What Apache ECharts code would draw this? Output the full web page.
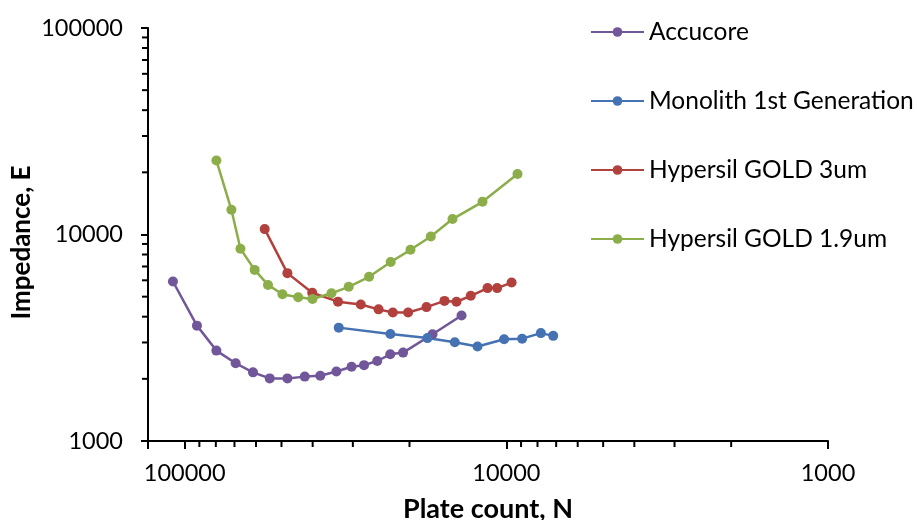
<!DOCTYPE html>
<html>
<head>
<meta charset="utf-8">
<script src="https://cdn.jsdelivr.net/npm/echarts@6/dist/echarts.min.js"></script>
<style>
	html, body {margin:0; padding:0; background:#fff;}
	#impedanceChart {width:917px; height:520px;}
</style>
</head>
<body>
<div id="impedanceChart"></div>
<script>
//Accucore
var accucoreN = [108750, 91570, 79680, 69400, 61320, 54390, 47930, 42330, 37880, 33750, 30280, 27690, 25190, 22950, 20940, 16960, 13780];
var accucoreE = [5920, 3620, 2740, 2380, 2150, 2010, 2010, 2050, 2070, 2170, 2290, 2330, 2440, 2630, 2680, 3290, 4050];
//Monolith 1st Generation
var monolithN = [33190, 22930, 17590, 14460, 12290, 10160, 8930, 7810, 7150];
var monolithE = [3540, 3300, 3150, 3010, 2870, 3110, 3130, 3330, 3230];
//Hypersil GOLD 3um
var hg3N = [56390, 47930, 40120, 33370, 28350, 24960, 22540, 20200, 17710, 15570, 14290, 12900, 11440, 10680, 9630];
var hg3E = [10620, 6500, 5220, 4730, 4580, 4340, 4190, 4190, 4450, 4770, 4720, 5050, 5500, 5500, 5850];
//Hypersil GOLD 1.9um
var hg19N = [79680, 71560, 67080, 60580, 55060, 49670, 44360, 40060, 34970, 30900, 26710, 22880, 19860, 17170, 14700, 11860, 9230];
var hg19E = [22840, 13170, 8530, 6740, 5700, 5140, 4970, 4870, 5190, 5580, 6240, 7360, 8430, 9780, 11880, 14400, 19630];

var seriesNames = ['Accucore', 'Monolith 1st Generation', 'Hypersil GOLD 3um', 'Hypersil GOLD 1.9um'];
var seriesColors = ['#71569A', '#4472B2', '#B2403D', '#8BAE4A'];

//axis ranges and ticks
var xRange = [1000, 130000];
var yRange = [1000, 100000];
var majorTicks = [1000, 10000, 100000];
var minorTicks = [2000, 3000, 4000, 5000, 6000, 7000, 8000, 9000, 20000, 30000, 40000, 50000, 60000, 70000, 80000, 90000];

var FONT = 'Lato';

window.ImpedanceChart = (function(module) {
	/**
	 * 初始化
	 */
	function init(){
		showChart();
	}

	//把两列数组拼成点
	function toPoints(xs, ys){
		var pts = [];
		for(var i = 0; i < xs.length; i++){
			pts.push([xs[i], ys[i]]);
		}
		return pts;
	}

	//只显示10的整数次幂
	function majorLabel(v){
		for(var i = 0; i < majorTicks.length; i++){
			if(Math.abs(v - majorTicks[i]) / majorTicks[i] < 1e-6){
				return String(majorTicks[i]);
			}
		}
		return '';
	}

	//次刻度 (2..9)
	function minorTickData(){
		var data = [];
		for(var i = 0; i < minorTicks.length; i++){
			data.push([minorTicks[i], yRange[0], 0]);
			data.push([xRange[1], minorTicks[i], 1]);
		}
		return data;
	}

	function renderMinorTick(params, api){
		var p = api.coord([api.value(0), api.value(1)]);
		var len = 6;
		var shape = api.value(2) === 0
			? {x1: p[0], y1: p[1], x2: p[0], y2: p[1] + len}
			: {x1: p[0] - len, y1: p[1], x2: p[0], y2: p[1]};
		return {type: 'line', shape: shape, style: {stroke: '#000', lineWidth: 2}};
	}

	function lineSeries(idx, xs, ys){
		return {
			name: seriesNames[idx],
			type: 'line',
			data: toPoints(xs, ys),
			symbol: 'circle',
			symbolSize: 10,
			showSymbol: true,
			lineStyle: {width: 2.5, color: seriesColors[idx]},
			itemStyle: {color: seriesColors[idx]},
			emphasis: {disabled: true},
			animation: false
		};
	}

	function showChart(){
		var myChart = echarts.init(document.getElementById('impedanceChart'));
		var option = {
			animation: false,
			textStyle: {fontFamily: FONT},
			color: seriesColors,
			grid: {left: 148, top: 28, width: 680, height: 413, containLabel: false, outerBoundsMode: 'none'},
			legend: {
				data: seriesNames,
				orient: 'vertical',
				left: 590,
				top: 19,
				padding: 0,
				itemWidth: 53,
				itemHeight: 12,
				itemGap: 43,
				textStyle: {fontFamily: FONT, fontSize: 24.5, color: '#000', lineHeight: 26}
			},
			xAxis: {
				type: 'log',
				logBase: 10,
				min: xRange[0],
				max: xRange[1],
				inverse: true,
				name: 'Plate count, N',
				nameLocation: 'middle',
				nameGap: 55,
				nameMoveOverlap: false,
				nameTextStyle: {fontFamily: FONT, fontSize: 27, fontWeight: 'bold', color: '#000'},
				axisLine: {onZero: false, lineStyle: {color: '#000', width: 2}},
				axisTick: {length: 8, lineStyle: {color: '#000', width: 2}},
				axisLabel: {margin: 20, fontFamily: FONT, fontSize: 23.5, color: '#000', formatter: majorLabel},
				splitLine: {show: false}
			},
			yAxis: {
				type: 'log',
				logBase: 10,
				min: yRange[0],
				max: yRange[1],
				name: 'Impedance, E',
				nameLocation: 'middle',
				nameGap: 113,
				nameMoveOverlap: false,
				nameTextStyle: {fontFamily: FONT, fontSize: 26, fontWeight: 'bold', color: '#000', padding: [0, 16, 0, 0]},
				axisLine: {onZero: false, lineStyle: {color: '#000', width: 2}},
				axisTick: {length: 7, lineStyle: {color: '#000', width: 2}},
				axisLabel: {margin: 25, fontFamily: FONT, fontSize: 23.5, color: '#000', formatter: majorLabel},
				splitLine: {show: false}
			},
			series: [
				lineSeries(0, accucoreN, accucoreE),
				lineSeries(1, monolithN, monolithE),
				lineSeries(2, hg3N, hg3E),
				lineSeries(3, hg19N, hg19E),
				{
					name: 'minorTicks',
					type: 'custom',
					data: minorTickData(),
					encode: {x: 0, y: 1},
					renderItem: renderMinorTick,
					clip: false,
					silent: true,
					animation: false
				}
			]
		};
		myChart.setOption(option);
	}

	module.init = init;
	return module;
}(window.ImpedanceChart || {}));

ImpedanceChart.init();
</script>
</body>
</html>
